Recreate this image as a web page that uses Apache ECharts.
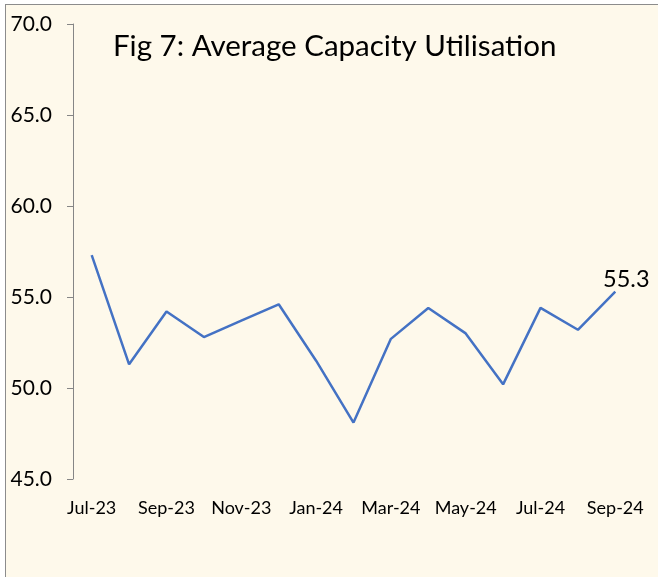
<!DOCTYPE html>
<html>
<head>
<meta charset="utf-8">
<script src="https://cdn.jsdelivr.net/npm/echarts@6/dist/echarts.min.js"></script>
<style>
  html, body { margin: 0; padding: 0; background: #ffffff; }
  .frame {
    position: absolute;
    left: 5px;
    top: 4px;
    width: 700px;
    height: 700px;
    background: #fef9eb;
    border-left: 1.5px solid #8c8c8c;
    border-top: 1.5px solid #8c8c8c;
  }
  #chart {
    position: absolute;
    left: 0;
    top: 0;
    width: 658px;
    height: 577px;
  }
</style>
</head>
<body>
<div class="frame"></div>
<div id="chart"></div>
<script>
const months = ['Jul-23', 'Aug-23', 'Sep-23', 'Oct-23', 'Nov-23', 'Dec-23', 'Jan-24', 'Feb-24',
  'Mar-24', 'Apr-24', 'May-24', 'Jun-24', 'Jul-24', 'Aug-24', 'Sep-24']
const utilisation = [57.3, 51.3, 54.2, 52.8, 53.7, 54.6, 51.5, 48.1, 52.7, 54.4, 53.0, 50.2, 54.4, 53.2, 55.3]
const yTicks = { min: 45, max: 70, step: 5 }

const fontFamily = 'Lato, "Noto Sans", sans-serif'
const lastIdx = utilisation.length - 1

const chart = echarts.init(document.getElementById('chart'))

chart.setOption({
  backgroundColor: 'transparent',
  animation: false,
  title: {
    text: 'Fig 7: Average Capacity Utilisation',
    left: 108,
    top: 26,
    textStyle: {
      fontFamily,
      fontSize: 29.5,
      fontWeight: 'normal',
      color: '#000'
    }
  },
  grid: {
    left: 73,
    right: 24,
    top: 24,
    bottom: 98
  },
  xAxis: {
    type: 'category',
    data: months,
    boundaryGap: true,
    axisLine: { show: false },
    axisTick: { show: false },
    axisLabel: {
      interval: 1,
      margin: 20,
      color: '#000',
      fontFamily,
      fontSize: 18
    }
  },
  yAxis: {
    type: 'value',
    min: yTicks.min,
    max: yTicks.max,
    interval: yTicks.step,
    splitLine: { show: false },
    axisLine: { show: true, lineStyle: { color: '#868686', width: 1 } },
    axisTick: { show: true, length: 6, lineStyle: { color: '#868686' } },
    axisLabel: {
      margin: 21,
      color: '#000',
      fontFamily,
      fontSize: 21,
      formatter: v => v.toFixed(1)
    }
  },
  series: [
    {
      type: 'line',
      data: utilisation.map((v, i) => i === lastIdx
        ? { value: v, label: { show: true } }
        : v),
      symbol: 'circle',
      symbolSize: 0,
      showSymbol: true,
      lineStyle: { color: '#4472c4', width: 2.5 },
      itemStyle: { color: '#4472c4' },
      label: {
        show: false,
        position: 'top',
        offset: [11, 5],
        color: '#000',
        fontFamily,
        fontSize: 23.5,
        formatter: p => p.value.toFixed(1)
      }
    }
  ]
})
</script>
</body>
</html>
